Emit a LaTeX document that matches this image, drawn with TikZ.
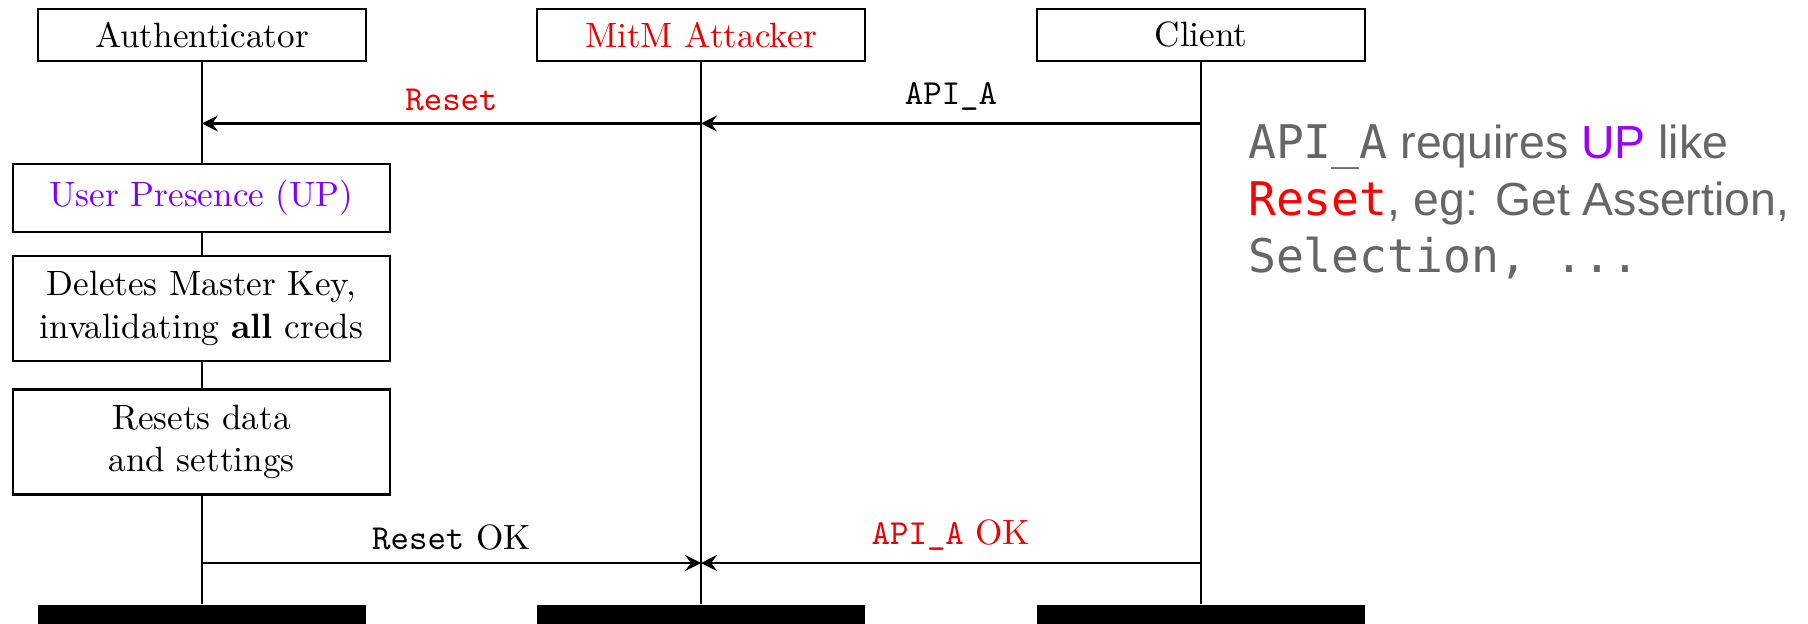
\documentclass[tikz,border=0pt]{standalone}
\usepackage{fontspec}
\usepackage{tikz}
\usetikzlibrary{arrows.meta}
\newfontfamily\slidesans{Liberation Sans}
\newfontfamily\slidemono{DejaVu Sans Mono}
\definecolor{attack}{RGB}{235, 0, 0}
\definecolor{presence}{RGB}{127, 0, 255}
\definecolor{slidegray}{RGB}{102, 102, 102}
\definecolor{slideup}{RGB}{153, 0, 255}
\definecolor{slidered}{RGB}{255, 0, 0}

\begin{document}
\begin{tikzpicture}[semithick, >={Stealth[length=4.5pt, width=4.5pt, inset=1.6pt]},
  actor/.style={draw, minimum width=3.28cm, minimum height=0.52cm},
  lifeend/.style={fill=black, minimum width=3.28cm, minimum height=0.5cm, anchor=north},
  task/.style={draw, fill=white, align=center, minimum width=3.77cm, minimum height=1.05cm},
  slide/.style={anchor=base west, inner sep=0pt, text=slidegray, font=\slidesans\fontsize{13.2pt}{16.2pt}\selectfont}]
  \useasboundingbox (0, 0) rectangle (18.08, -6.24);

  % Actors and lifelines
  \foreach \who/\x/\actorname in {auth/2.02/Authenticator, mitm/7.01/\textcolor{attack}{MitM Attacker}, client/12.01/Client} {
    \node[actor] (\who) at (\x, -0.35) {\actorname};
    \node[lifeend] (\who end) at (\x, -6.04) {};
    \draw (\who.south) -- (\who end.north);
  }

  % Authenticator steps
  \node[task, minimum height=0.68cm, text=presence] (up) at (2.015, -1.98) {User Presence (UP)};
  \node[task] (wipe) at (2.015, -3.085) {Deletes Master Key,\\invalidating \textbf{all} creds};
  \node[task] (resets) at (2.015, -4.42) {Resets data\\and settings};

  % Messages
  \coordinate (ask) at (0, -1.235);
  \coordinate (reply) at (0, -5.63);
  \draw[->] (client |- ask) -- (mitm |- ask) node[midway, above] {\texttt{API\_A}};
  \draw[->] (mitm |- ask) -- (auth |- ask) node[midway, above, text=attack] {\texttt{Reset}};
  \draw[->] (auth |- reply) -- (mitm |- reply) node[midway, above] {\texttt{Reset} OK};
  \draw[->] (client |- reply) -- (mitm |- reply) node[midway, above, text=attack] {\texttt{API\_A} OK};

  % Side note
  \node[slide] (note1) at (12.47, -1.59) {{\slidemono API\_A} requires \textcolor{slideup}{UP} like};
  \node[slide] (note2) at (12.47, -2.16) {{\slidemono\color{slidered}Reset}, eg: Get Assertion,};
  \node[slide] (note3) at (12.47, -2.73) {{\slidemono Selection, ...}};
\end{tikzpicture}
\end{document}
